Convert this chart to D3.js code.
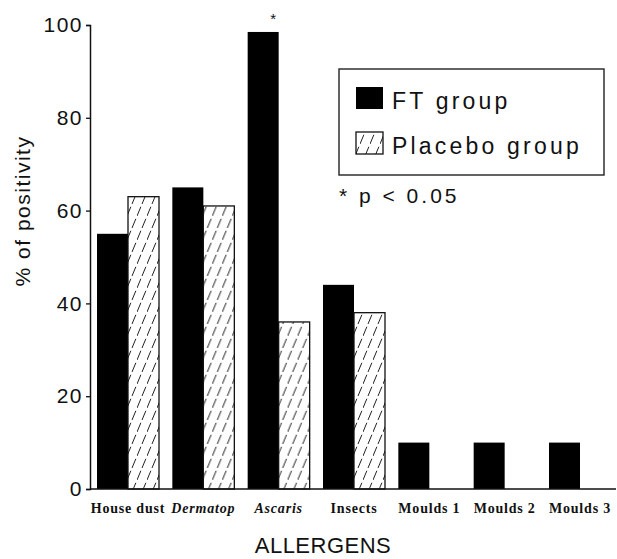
<!DOCTYPE html>
<html>
<head>
<meta charset="utf-8">
<script src="https://cdn.jsdelivr.net/npm/d3@7"></script>
<style>
  body { margin: 0; background: #fff; }
  svg { display: block; }
  .sans { font-family: "Liberation Sans", Arial, sans-serif; fill: #111; }
  .cat { font-family: "Liberation Serif", "Times New Roman", serif; font-weight: bold; font-size: 14px; letter-spacing: 0.8px; fill: #111; }
</style>
</head>
<body>
<svg id="chart" width="617" height="559"></svg>
<script>
// data
var categories = ["House dust", "Dermatop", "Ascaris", "Insects", "Moulds 1", "Moulds 2", "Moulds 3"];
var italicCats = ["Dermatop", "Ascaris"];
var ftGroup = [55, 65, 98.5, 44, 10, 10, 10];
var placeboGroup = [63, 61, 36, 38, 0, 0, 0];
var yTicks = [0, 20, 40, 60, 80, 100];
var significant = ["Ascaris"];

var svg = d3.select("#chart");

// hatch for the placebo bars
var defs = svg.append("defs");
var pat = defs.append("pattern")
    .attr("id", "hatch")
    .attr("patternUnits", "userSpaceOnUse")
    .attr("width", 10)
    .attr("height", 24);
pat.append("rect").attr("width", 10).attr("height", 24).attr("fill", "#fff");
pat.append("line")
    .attr("x1", 0).attr("y1", 24).attr("x2", 10).attr("y2", 0)
    .attr("stroke", "#222").attr("stroke-width", 1)
    .attr("stroke-dasharray", "10 3");

var x = d3.scaleBand()
    .domain(categories)
    .range([90, 618])
    .paddingInner(0.177)
    .paddingOuter(0.093);

var xSub = d3.scaleBand()
    .domain(["ft", "placebo"])
    .range([0, x.bandwidth()]);

var y = d3.scaleLinear()
    .domain([0, 100])
    .range([489, 25]);

var rows = categories.map(function (c, i) {
    return { cat: c, ft: ftGroup[i], placebo: placeboGroup[i] };
});

// bars
var groups = svg.append("g").selectAll("g")
    .data(rows)
    .enter()
    .append("g")
    .attr("transform", function (d) { return "translate(" + x(d.cat) + ",0)"; });

groups.append("rect")
    .attr("x", xSub("ft"))
    .attr("y", function (d) { return y(d.ft); })
    .attr("width", xSub.bandwidth())
    .attr("height", function (d) { return y(0) - y(d.ft); })
    .attr("fill", "#000");

groups.filter(function (d) { return d.placebo > 0; })
    .append("rect")
    .attr("x", xSub("placebo"))
    .attr("y", function (d) { return y(d.placebo); })
    .attr("width", xSub.bandwidth())
    .attr("height", function (d) { return y(0) - y(d.placebo); })
    .attr("fill", "url(#hatch)")
    .attr("stroke", "#111")
    .attr("stroke-width", 1.3);

// significance star
groups.filter(function (d) { return significant.includes(d.cat); })
    .append("text")
    .attr("class", "sans")
    .attr("x", xSub("ft") + xSub.bandwidth() / 2 + 10)
    .attr("y", function (d) { return y(d.ft) - 8; })
    .attr("text-anchor", "middle")
    .style("font-size", "15px")
    .text("*");

// y axis
var yAxis = svg.append("g")
    .attr("transform", "translate(90,0)")
    .call(d3.axisLeft(y).tickValues(yTicks).tickSize(4).tickPadding(3));
yAxis.select(".domain").attr("stroke", "#111").attr("stroke-width", 1.5);
yAxis.selectAll(".tick line").attr("stroke", "#111").attr("stroke-width", 1.3);
yAxis.selectAll(".tick text")
    .attr("class", "sans")
    .style("font-size", "21px")
    .style("letter-spacing", "1.5px")
    .attr("fill", "#111");

// x axis line, no ticks
var xAxis = svg.append("g")
    .attr("transform", "translate(0," + y(0) + ")")
    .call(d3.axisBottom(x).tickSize(0).tickFormat(""));
xAxis.select(".domain").attr("d", "M90,0H616").attr("stroke", "#111").attr("stroke-width", 1.5);

// category labels
svg.append("g").selectAll("text")
    .data(categories)
    .enter()
    .append("text")
    .attr("class", "cat")
    .attr("x", function (d) { return x(d) + x.bandwidth() / 2; })
    .attr("y", 513)
    .attr("text-anchor", "middle")
    .style("font-style", function (d) { return italicCats.includes(d) ? "italic" : "normal"; })
    .text(function (d) { return d; });

// axis titles
svg.append("text")
    .attr("class", "sans")
    .attr("transform", "translate(30,211) rotate(-90)")
    .attr("text-anchor", "middle")
    .style("font-size", "21px")
    .style("letter-spacing", "1.5px")
    .text("% of positivity");

svg.append("text")
    .attr("class", "sans")
    .attr("x", 323)
    .attr("y", 553)
    .attr("text-anchor", "middle")
    .style("font-size", "22px")
    .style("letter-spacing", "0.5px")
    .text("ALLERGENS");

// legend
var legend = svg.append("g");
legend.append("rect")
    .attr("x", 339).attr("y", 69)
    .attr("width", 265).attr("height", 106)
    .attr("fill", "none").attr("stroke", "#222").attr("stroke-width", 1.4);

var legendItems = [
    { label: "FT group", fill: "#000", stroke: "none" },
    { label: "Placebo group", fill: "url(#hatch)", stroke: "#111" }
];
legendItems.forEach(function (it, i) {
    legend.append("rect")
        .attr("x", 356).attr("y", 87 + i * 45)
        .attr("width", 27).attr("height", 22)
        .attr("fill", it.fill)
        .attr("stroke", it.stroke)
        .attr("stroke-width", 1.3);
    legend.append("text")
        .attr("class", "sans")
        .attr("x", 392).attr("y", 109 + i * 45)
        .style("font-size", "23px")
        .style("letter-spacing", "3.2px")
        .text(it.label);
});

svg.append("text")
    .attr("class", "sans")
    .attr("x", 339).attr("y", 203)
    .style("font-size", "21px")
    .style("letter-spacing", "3px")
    .text("* p < 0.05");
</script>
</body>
</html>
